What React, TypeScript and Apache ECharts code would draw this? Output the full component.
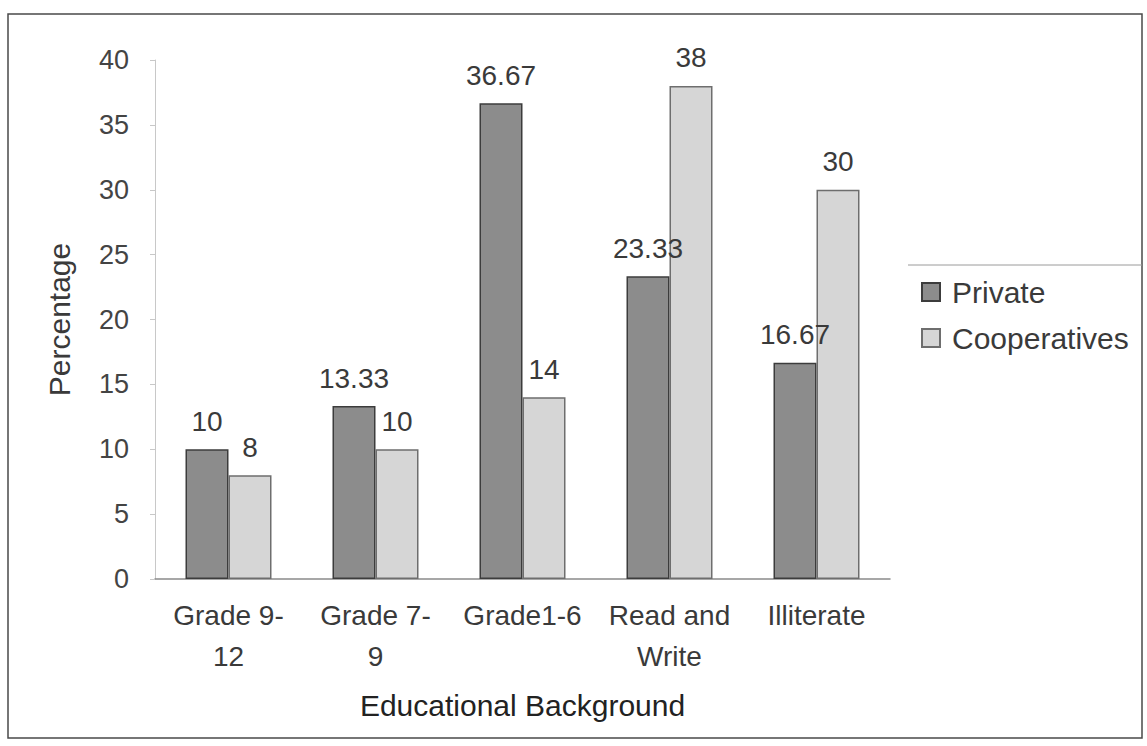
import React, { useEffect, useRef } from "react";
import * as echarts from "echarts";

const categories = ["Grade 9-\n12", "Grade 7-\n9", "Grade1-6", "Read and\nWrite", "Illiterate"];
const privateValues = [10, 13.33, 36.67, 23.33, 16.67];
const cooperativeValues = [8, 10, 14, 38, 30];
const seriesNames = ["Private", "Cooperatives"];
const yTicks = { min: 0, max: 40, interval: 5 };

const FONT = "'Liberation Sans', Arial, Helvetica, sans-serif";
const TEXT = "#3a3a3a";

export default function App() {
  const ref = useRef<HTMLDivElement>(null);

  useEffect(() => {
    if (!ref.current) return;
    const chart = echarts.init(ref.current, undefined, { renderer: "svg" });
    const labelStyle = {
      show: true,
      position: "top" as const,
      distance: 14,
      fontSize: 28,
      fontFamily: FONT,
      color: TEXT,
    };
    chart.setOption({
      animation: false,
      backgroundColor: "#ffffff",
      textStyle: { fontFamily: FONT },
      grid: { left: 155, top: 60, width: 735, height: 519, containLabel: false },
      legend: {
        orient: "vertical",
        left: 916,
        top: 272,
        itemWidth: 18,
        itemHeight: 18,
        itemGap: 16,
        icon: "rect",
        textStyle: {
          fontSize: 30,
          fontFamily: FONT,
          color: TEXT,
          lineHeight: 30,
          padding: [0, 0, 0, 7],
        },
        data: seriesNames,
      },
      xAxis: {
        type: "category",
        data: categories,
        name: "Educational Background",
        nameLocation: "middle",
        nameGap: 111,
        nameTextStyle: { fontSize: 30, fontFamily: FONT, color: "#222" },
        axisLine: { lineStyle: { color: "#8a8a8a", width: 1.5 } },
        axisTick: { show: false },
        axisLabel: {
          fontSize: 28,
          fontFamily: FONT,
          color: TEXT,
          lineHeight: 41,
          margin: 16,
          interval: 0,
        },
        splitLine: { show: false },
      },
      yAxis: {
        type: "value",
        min: yTicks.min,
        max: yTicks.max,
        interval: yTicks.interval,
        name: "Percentage",
        nameLocation: "middle",
        nameGap: 81,
        nameTextStyle: { fontSize: 30, fontFamily: FONT, color: TEXT },
        axisLine: { show: true, lineStyle: { color: "#c8c8c8", width: 1 } },
        axisTick: { show: true, length: 5, lineStyle: { color: "#c8c8c8" } },
        axisLabel: { fontSize: 27, fontFamily: FONT, color: "#444", margin: 26 },
        splitLine: { show: false },
      },
      series: [
        {
          name: seriesNames[0],
          type: "bar",
          data: privateValues,
          barWidth: 43,
          barGap: "0%",
          itemStyle: { color: "#8c8c8c", borderColor: "#3c3c3c", borderWidth: 1.5 },
          label: labelStyle,
        },
        {
          name: seriesNames[1],
          type: "bar",
          data: cooperativeValues,
          barWidth: 43,
          barGap: "0%",
          itemStyle: { color: "#d6d6d6", borderColor: "#6e6e6e", borderWidth: 1.5 },
          label: labelStyle,
        },
      ],
      graphic: [
        {
          type: "rect",
          shape: { x: 8, y: 14, width: 1134, height: 724 },
          style: { fill: "none", stroke: "#4a4a4a", lineWidth: 1.5 },
          silent: true,
          z: -1,
        },
        {
          type: "line",
          shape: { x1: 908, y1: 265, x2: 1142, y2: 265 },
          style: { stroke: "#9a9a9a", lineWidth: 1 },
          silent: true,
        },
      ],
    });
    return () => chart.dispose();
  }, []);

  return (
    <div
      ref={ref}
      style={{ position: "fixed", left: 0, top: 0, width: 1147, height: 746 }}
    />
  );
}
